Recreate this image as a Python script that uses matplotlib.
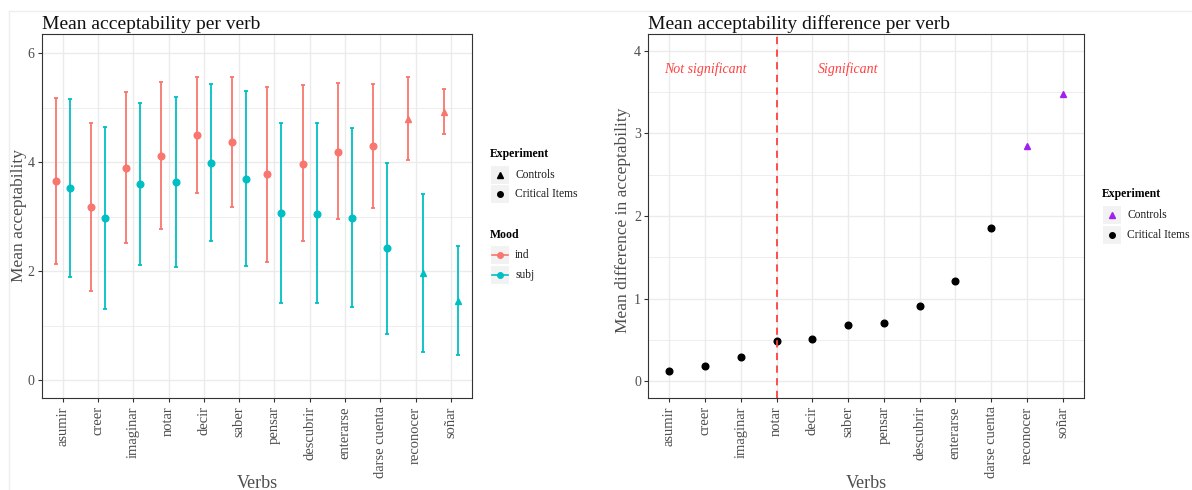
import matplotlib.pyplot as plt
import numpy as np
from matplotlib.lines import Line2D
from matplotlib.patches import Rectangle

plt.rcParams['font.family'] = ['Liberation Serif', 'DejaVu Serif']

verbs = ['asumir', 'creer', 'imaginar', 'notar', 'decir', 'saber', 'pensar',
         'descubrir', 'enterarse', 'darse cuenta', 'reconocer', 'soñar']
is_control = [False] * 10 + [True, True]

# left panel: mean acceptability per mood, with error bar bounds
ind_mean = [3.65, 3.18, 3.89, 4.12, 4.50, 4.37, 3.78, 3.97, 4.19, 4.29, 4.80, 4.93]
ind_hi = [5.18, 4.73, 5.29, 5.47, 5.57, 5.56, 5.38, 5.41, 5.45, 5.43, 5.56, 5.35]
ind_lo = [2.13, 1.63, 2.51, 2.77, 3.44, 3.18, 2.17, 2.55, 2.95, 3.16, 4.04, 4.51]
subj_mean = [3.53, 2.98, 3.60, 3.63, 3.98, 3.69, 3.06, 3.05, 2.97, 2.42, 1.96, 1.46]
subj_hi = [5.17, 4.65, 5.09, 5.19, 5.44, 5.30, 4.73, 4.72, 4.62, 3.99, 3.41, 2.47]
subj_lo = [1.89, 1.31, 2.11, 2.07, 2.55, 2.09, 1.41, 1.41, 1.34, 0.85, 0.52, 0.46]

# right panel: mean difference
diff = [0.125, 0.19, 0.29, 0.49, 0.51, 0.68, 0.71, 0.91, 1.22, 1.86, 2.85, 3.48]
cutoff = 'notar'

IND = '#F8766D'
SUBJ = '#00BFC4'
PURPLE = '#A020F0'
GRID = '#EBEBEB'
TXT = '#4D4D4D'

W, H = 1192, 490
fig = plt.figure(figsize=(W / 100, H / 100), dpi=100)


def px_axes(l, t, r, b):
    return fig.add_axes([l / W, 1 - b / H, (r - l) / W, (b - t) / H])


def style(ax, ylim, major, minor):
    ax.set_xlim(-0.6, len(verbs) - 0.4)
    ax.set_ylim(*ylim)
    ax.set_yticks(major)
    ax.set_yticks(minor, minor=True)
    ax.set_xticks(np.arange(len(verbs)))
    ax.set_xticklabels(verbs, rotation=90, fontsize=10.5, color=TXT, va='top', ha='center')
    ax.tick_params(axis='y', labelsize=10, labelcolor=TXT, length=3, color='#333333', pad=2)
    ax.tick_params(axis='x', length=3, color='#333333', pad=3)
    ax.tick_params(which='minor', length=0)
    ax.grid(which='major', color=GRID, lw=1.0)
    ax.grid(which='minor', axis='y', color=GRID, lw=0.6)
    ax.set_axisbelow(True)
    for s in ax.spines.values():
        s.set_color('#333333')
        s.set_linewidth(0.8)


def key(x, y, label, marker, color, line=False):
    # legend key: grey box + glyph + label (pixel coords)
    fig.add_artist(Rectangle((x / W, 1 - (y + 9) / H), 18 / W, 18 / H,
                             transform=fig.transFigure, facecolor='#F2F2F2', edgecolor='none'))
    if line:
        fig.add_artist(Line2D([(x + 1) / W, (x + 17) / W], [1 - y / H] * 2,
                              transform=fig.transFigure, color=color, lw=1.2))
    fig.add_artist(Line2D([(x + 9) / W], [1 - y / H], transform=fig.transFigure,
                          marker=marker, color=color, markersize=4, lw=0))
    fig.text((x + 24) / W, 1 - y / H, label, fontsize=8.3, va='center', ha='left', color='#1a1a1a')


# ---------- left panel ----------
ax1 = px_axes(41.5, 34.3, 472, 398)
style(ax1, (-0.33, 6.35), [0, 2, 4, 6], [1, 3, 5])
x = np.arange(len(verbs))
for means, lo, hi, col, off in [(ind_mean, ind_lo, ind_hi, IND, -0.2),
                                (subj_mean, subj_lo, subj_hi, SUBJ, 0.2)]:
    m = np.array(means)
    ax1.errorbar(x + off, m, yerr=[m - np.array(lo), np.array(hi) - m], fmt='none',
                 ecolor=col, elinewidth=1.3, capsize=1.5, capthick=1.3)
    for xi, mi, c in zip(x + off, m, is_control):
        ax1.plot(xi, mi, marker='^' if c else 'o', color=col, markersize=4.8, lw=0)
ax1.set_title('Mean acceptability per verb', loc='left', fontsize=14, pad=4, color='#111111')
fig.text(19 / W, 1 - 216 / H, 'Mean acceptability', rotation=90, fontsize=12.5,
         color=TXT, ha='center', va='center')
fig.text(257 / W, 1 - 483 / H, 'Verbs', fontsize=13, color=TXT, ha='center', va='center')

fig.text(490 / W, 1 - 154 / H, 'Experiment', fontsize=8.5, fontweight='bold', va='center')
key(491, 175, 'Controls', '^', 'black')
key(491, 194, 'Critical Items', 'o', 'black')
fig.text(490 / W, 1 - 235 / H, 'Mood', fontsize=8.5, fontweight='bold', va='center')
key(491, 255, 'ind', 'o', IND, line=True)
key(491, 275, 'subj', 'o', SUBJ, line=True)

# ---------- right panel ----------
ax2 = px_axes(648, 34.3, 1084, 398)
style(ax2, (-0.2, 4.2), [0, 1, 2, 3, 4], [0.5, 1.5, 2.5, 3.5])
for xi, d, c in zip(x, diff, is_control):
    ax2.plot(xi, d, marker='^' if c else 'o', color=PURPLE if c else 'black',
             markersize=4.8, lw=0)
cx = verbs.index(cutoff)
ax2.axvline(cx, color='#FF4040', ls=(0, (4, 3)), lw=1.3)
ax2.text(1, 3.78, 'Not significant', color='#FF4040', style='italic', fontsize=10,
         ha='center', va='center')
ax2.text(5, 3.78, 'Significant', color='#FF4040', style='italic', fontsize=10,
         ha='center', va='center')
ax2.set_title('Mean acceptability difference per verb', loc='left', fontsize=14, pad=4,
              color='#111111')
fig.text(623 / W, 1 - 220 / H, 'Mean difference in acceptability', rotation=90, fontsize=12.5,
         color=TXT, ha='center', va='center')
fig.text(866 / W, 1 - 483 / H, 'Verbs', fontsize=13, color=TXT, ha='center', va='center')

fig.text(1102 / W, 1 - 194 / H, 'Experiment', fontsize=8.5, fontweight='bold', va='center')
key(1103, 215, 'Controls', '^', PURPLE)
key(1103, 235, 'Critical Items', 'o', 'black')

# faint frame of the original screenshot
fig.add_artist(Line2D([9 / W, 1], [1 - 11 / H] * 2, transform=fig.transFigure,
                      color='#EEEEEE', lw=1))
fig.add_artist(Line2D([9 / W] * 2, [0, 1 - 11 / H], transform=fig.transFigure,
                      color='#EEEEEE', lw=1))

fig.savefig('out.png', dpi=100)
